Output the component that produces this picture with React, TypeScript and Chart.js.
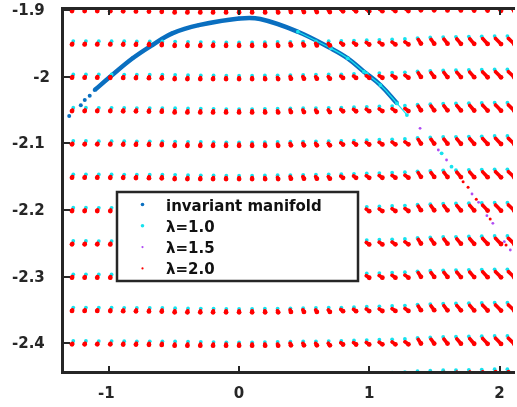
import React, { useEffect, useRef } from "react";
import { Chart, registerables } from "chart.js";

Chart.register(...registerables);

// ---- axis ticks ----
const xTicks = [-1, 0, 1, 2];
const yTicks = [-1.9, -2, -2.1, -2.2, -2.3, -2.4];

// ---- grid of initial conditions ----
const gridX = [-1.3, -1.2, -1.1, -1.0, -0.9, -0.8, -0.7, -0.6, -0.5, -0.4, -0.3, -0.2, -0.1, 0, 0.1, 0.2, 0.3, 0.4, 0.5, 0.6, 0.7, 0.8, 0.9, 1.0, 1.1, 1.2, 1.3, 1.4, 1.5, 1.6, 1.7, 1.8, 1.9, 2.0, 2.1];
const gridY = [-1.9, -1.95, -2.0, -2.05, -2.1, -2.15, -2.2, -2.25, -2.3, -2.35, -2.4, -2.45];

// displacement of the lambda=1.0 sample from each grid point (per column)
const cyanDx = [0.027, 0.024, 0.023, 0.021, 0.018, 0.015, 0.014, 0.011, 0.009, 0.008, 0.006, 0.004, 0.002, 0, 0, -0.002, -0.004, -0.006, -0.008, -0.010, -0.012, -0.015, -0.018, -0.020, -0.023, -0.025, -0.027, -0.030, -0.032, -0.033, -0.035, -0.036, -0.037, -0.038, -0.040];
const cyanDy = [0.0035, 0.0035, 0.0033, 0.0033, 0.0032, 0.003, 0.003, 0.003, 0.0027, 0.0023, 0.002, 0.0018, 0.0015, 0.0015, 0.0015, 0.0018, 0.0021, 0.0024, 0.0027, 0.003, 0.0033, 0.0036, 0.0042, 0.0048, 0.0054, 0.006, 0.0066, 0.008, 0.0088, 0.0095, 0.0098, 0.0102, 0.0106, 0.011, 0.011];

// lambda=2.0 streak: start / end displacement from each grid point (per column)
const redStartDx = [0.021, 0.017, 0.013, 0.013, 0.012, 0.011, 0.009, 0.008, 0.006, 0.005, 0.003, 0.002, 0, 0, 0, -0.002, -0.005, -0.008, -0.010, -0.012, -0.015, -0.019, -0.021, -0.023, -0.024, -0.025, -0.026, -0.024, -0.026, -0.027, -0.028, -0.029, -0.030, -0.031, -0.032];
const redStartDy = [0, 0, 0, 0, 0, 0, 0, 0, -0.0012, -0.0012, -0.0012, -0.0012, -0.0012, -0.0012, -0.0012, -0.0012, -0.0012, 0, 0, 0, 0, 0.0008, 0.001, 0.0013, 0.0016, 0.0019, 0.0022, 0.0057, 0.006, 0.0063, 0.0066, 0.0069, 0.0072, 0.0075, 0.0075];
const redEndDx = [0.017, 0.014, 0.011, 0.011, 0.010, 0.008, 0.008, 0.006, 0.005, 0.003, 0.002, 0, 0, 0, 0, 0, 0, -0.002, -0.002, -0.003, -0.003, -0.002, -0.002, -0.001, 0, 0, 0, -0.004, -0.002, 0, 0.003, 0.005, 0.008, 0.011, 0.013];
const redEndDy = [-0.0015, -0.0015, -0.0015, -0.0016, -0.0018, -0.002, -0.0022, -0.0025, -0.0036, -0.0036, -0.0036, -0.0036, -0.0036, -0.0036, -0.0036, -0.0036, -0.0036, -0.003, -0.003, -0.003, -0.003, -0.0018, -0.0018, -0.0017, -0.0016, -0.0015, -0.0015, -0.0003, -0.0004, -0.0005, -0.0006, -0.0007, -0.0008, -0.001, -0.001];

// ---- invariant manifold ----
const manifoldSparseX = [-1.3044, -1.2154, -1.1849, -1.1469];
const manifoldSparseY = [-2.059, -2.0429, -2.035, -2.0285];
const manifoldX = [-1.1088, -0.9947, -0.8174, -0.6652, -0.5129, -0.3097, 0, 0.1621, 0.4513, 0.7047, 0.8341, 0.9589, 1.0852, 1.2123];
const manifoldY = [-2.02, -2.0009, -1.9724, -1.9524, -1.9349, -1.9226, -1.9127, -1.9134, -1.9325, -1.9574, -1.9724, -1.9925, -2.0125, -2.0399];

// samples of the lambda runs lying on the manifold
const cyanCurveX = [0.4513, 0.7047, 0.8341, 0.9589, 1.0852, 1.2123, 1.2885];
const cyanCurveY = [-1.9325, -1.9574, -1.9724, -1.9925, -2.0125, -2.0399, -2.0575];
const cyanDotX = [1.555, 1.6309];
const cyanDotY = [-2.115, -2.135];
const purpleDotX = [1.3896, 1.5297, 1.5928, 1.7884, 1.8387, 1.9026, 1.9483, 2.0365, 2.0822];
const purpleDotY = [-2.0774, -2.11, -2.125, -2.176, -2.1885, -2.2086, -2.22, -2.2476, -2.26];
const redDotX = [1.72, 1.758, 1.8212, 1.9277, 2.0495];
const redDotY = [-2.1575, -2.166, -2.184, -2.2135, -2.2525];

const seriesLabels = ["invariant manifold", "\u03bb=1.0", "\u03bb=1.5", "\u03bb=2.0"];
const seriesColors = ["#0a6fc0", "#17e2ee", "#b04cf4", "#ff0000"];

type P = { x: number; y: number | null };

function buildData() {
  const manifold: P[] = [];
  manifoldSparseX.forEach((x, i) => {
    manifold.push({ x, y: manifoldSparseY[i] });
    manifold.push({ x, y: null });
  });
  manifoldX.forEach((x, i) => manifold.push({ x, y: manifoldY[i] }));

  const cyan: P[] = [];
  const red: P[] = [];
  gridY.forEach((y0) => {
    gridX.forEach((x0, c) => {
      cyan.push({ x: x0 + cyanDx[c], y: y0 + cyanDy[c] });
      cyan.push({ x: x0, y: null });
      red.push({ x: x0 + redStartDx[c], y: y0 + redStartDy[c] });
      red.push({ x: x0 + redEndDx[c], y: y0 + redEndDy[c] });
      red.push({ x: x0, y: null });
    });
  });
  const redGridCount = red.length;
  cyanCurveX.forEach((x, i) => cyan.push({ x, y: cyanCurveY[i] }));
  cyan.push({ x: 0, y: null });
  cyanDotX.forEach((x, i) => {
    cyan.push({ x, y: cyanDotY[i] });
    cyan.push({ x, y: null });
  });
  redDotX.forEach((x, i) => {
    red.push({ x, y: redDotY[i] });
    red.push({ x, y: null });
  });
  const purple: P[] = purpleDotX.map((x, i) => ({ x, y: purpleDotY[i] }));
  return { manifold, cyan, purple, red, redGridCount };
}

const FONT_FAMILY = '"DejaVu Sans", "Liberation Sans", Arial, sans-serif';
const AXIS_COLOR = "#262626";

const framePlugin = {
  id: "frame",
  afterDatasetsDraw(chart: any) {
    const { ctx, chartArea } = chart;
    const { left, right, top, bottom } = chartArea;
    const xs = chart.scales.x;
    const ys = chart.scales.y;
    ctx.save();
    ctx.strokeStyle = AXIS_COLOR;
    ctx.lineCap = "butt";
    ctx.lineWidth = 3;
    ctx.beginPath();
    ctx.moveTo(left - 0.5, top - 1);
    ctx.lineTo(left - 0.5, bottom + 1);
    ctx.moveTo(left - 2, bottom - 0.5);
    ctx.lineTo(right + 2, bottom - 0.5);
    ctx.moveTo(left - 2, top + 0.5);
    ctx.lineTo(right + 2, top + 0.5);
    ctx.stroke();
    ctx.lineWidth = 2;
    ctx.beginPath();
    xTicks.forEach((v) => {
      const px = Math.round(xs.getPixelForValue(v));
      ctx.moveTo(px, bottom - 1);
      ctx.lineTo(px, bottom - 7);
      ctx.moveTo(px, top + 1);
      ctx.lineTo(px, top + 7);
    });
    yTicks.forEach((v) => {
      const py = Math.round(ys.getPixelForValue(v));
      ctx.moveTo(left, py);
      ctx.lineTo(left + 7, py);
    });
    ctx.stroke();
    ctx.restore();
  },
};

const legendPlugin = {
  id: "boxLegend",
  afterDraw(chart: any) {
    const { ctx, chartArea } = chart;
    const bx = chartArea.left + 54;
    const by = chartArea.top + 184;
    const bw = 241;
    const bh = 89;
    ctx.save();
    ctx.fillStyle = "#ffffff";
    ctx.fillRect(bx, by, bw, bh);
    ctx.lineWidth = 2.5;
    ctx.strokeStyle = AXIS_COLOR;
    ctx.strokeRect(bx, by, bw, bh);
    const radii = [1.8, 1.8, 1.1, 1.1];
    chart.data.datasets.forEach((ds: any, i: number) => {
      const baseY = by + 18.5 + i * 21.3;
      ctx.fillStyle = ds.backgroundColor;
      ctx.beginPath();
      ctx.arc(bx + 25.5, baseY - 6, radii[i], 0, Math.PI * 2);
      ctx.fill();
      ctx.fillStyle = "#111111";
      ctx.font = `bold 15px ${FONT_FAMILY}`;
      ctx.textBaseline = "alphabetic";
      ctx.textAlign = "left";
      ctx.fillText(ds.label, bx + 49, baseY);
    });
    ctx.restore();
  },
};

export default function App() {
  const canvasRef = useRef<HTMLCanvasElement | null>(null);

  useEffect(() => {
    if (!canvasRef.current) return;
    const d = buildData();
    const chart = new Chart(canvasRef.current, {
      type: "scatter",
      data: {
        datasets: [
          {
            label: seriesLabels[0],
            data: d.manifold as any,
            showLine: true,
            borderColor: seriesColors[0],
            backgroundColor: seriesColors[0],
            pointBorderWidth: 0,
            pointRadius: 2,
            borderWidth: 4.5,
            tension: 0.4,
            order: 4,
          },
          {
            label: seriesLabels[1],
            data: d.cyan as any,
            showLine: true,
            borderColor: seriesColors[1],
            backgroundColor: seriesColors[1],
            pointBorderWidth: 0,
            pointRadius: 1.9,
            borderWidth: 1.2,
            tension: 0.4,
            order: 3,
          },
          {
            label: seriesLabels[2],
            data: d.purple as any,
            showLine: false,
            borderColor: seriesColors[2],
            backgroundColor: seriesColors[2],
            pointBorderWidth: 0,
            pointRadius: 1.4,
            order: 2,
          },
          {
            label: seriesLabels[3],
            data: d.red as any,
            showLine: true,
            borderColor: seriesColors[3],
            backgroundColor: seriesColors[3],
            pointBorderWidth: 0,
            pointRadius: (c: any) =>
              c.dataIndex < d.redGridCount && c.dataIndex % 3 === 1 ? 2.4 : 1.5,
            borderWidth: 3.6,
            borderCapStyle: "round",
            // non-zero tension: disables Chart.js' fast path, which assumes x-sorted data
            tension: 0.0001,
            order: 1,
          },
        ],
      },
      options: {
        animation: false,
        responsive: false,
        devicePixelRatio: 1,
        events: [],
        layout: { padding: { top: 8, left: 0, right: 0, bottom: 0 } },
        plugins: {
          legend: { display: false },
          tooltip: { enabled: false },
        },
        scales: {
          x: {
            type: "linear",
            min: -1.352,
            max: 2.103,
            grid: { display: false, drawTicks: false },
            border: { display: false },
            afterBuildTicks: (s: any) => {
              s.ticks = xTicks.map((v) => ({ value: v }));
            },
            afterFit: (s: any) => {
              s.height = 34;
              s.paddingLeft = 0;
              s.paddingRight = 0;
            },
            ticks: {
              autoSkip: false,
              maxRotation: 0,
              padding: 12,
              color: "#262626",
              font: { family: FONT_FAMILY, weight: "bold", size: 15 },
              callback: (v: any) => (Number(v) < 0 ? String(v) + " " : String(v)),
            },
          },
          y: {
            type: "linear",
            min: -2.4446,
            max: -1.8969,
            grid: { display: false, drawTicks: false },
            border: { display: false },
            afterBuildTicks: (s: any) => {
              s.ticks = yTicks.map((v) => ({ value: v }));
            },
            afterFit: (s: any) => {
              s.width = 63;
              s.paddingTop = 0;
              s.paddingBottom = 0;
            },
            ticks: {
              autoSkip: false,
              padding: 13,
              labelOffset: 1,
              color: "#262626",
              font: { family: FONT_FAMILY, weight: "bold", size: 15 },
              callback: (v: any) => (Number.isInteger(Number(v)) ? String(v) : String(v) + " "),
            },
          },
        },
      },
      plugins: [framePlugin, legendPlugin],
    });
    return () => chart.destroy();
  }, []);

  return (
    <div style={{ position: "absolute", left: 0, top: 0, width: 517, height: 407, background: "#fff" }}>
      <canvas ref={canvasRef} width={517} height={407} style={{ display: "block" }} />
    </div>
  );
}
